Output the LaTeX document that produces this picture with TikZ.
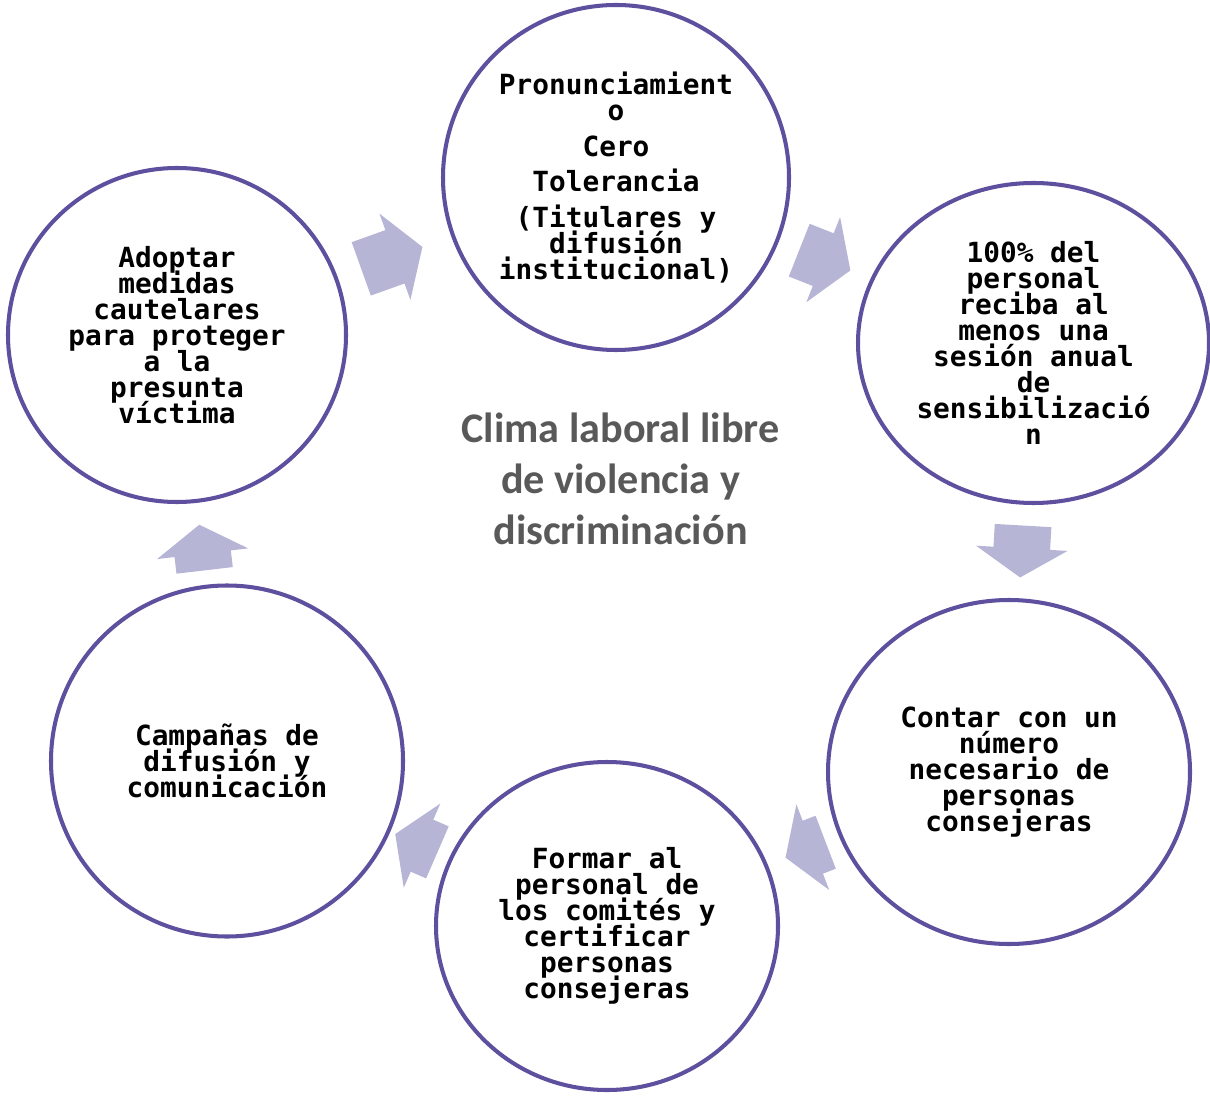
\documentclass[tikz,border=0pt]{standalone}
\usepackage{fontspec}
\usepackage{tikz}
\usetikzlibrary{shapes.geometric,shapes.arrows,backgrounds,positioning}
\newfontfamily\etapafont{DejaVu Sans Mono}
\newfontfamily\titulofont{Carlito}
\definecolor{morado}{RGB}{94,80,158}
\definecolor{lila}{RGB}{183,181,214}
\definecolor{grisoscuro}{RGB}{89,89,89}

\begin{document}
\begin{tikzpicture}[
	etapa/.style = {ellipse, draw=morado, line width=2.3pt, fill=white, inner sep=0pt, align=center,
		font={\etapafont\bfseries\fontsize{15.8}{14.8}\selectfont\lineskiplimit=-20pt}},
	flecha/.style = {single arrow, fill=lila, inner xsep=0pt, inner ysep=0.56cm,
		single arrow head extend=0.35cm, single arrow tip angle=115, sloped, allow upside down}
]
	\useasboundingbox (0,0) rectangle (24.2,21.9);

	\node 	(cero) 		[etapa, minimum width=6.92cm, minimum height=6.90cm] at (12.32,18.35)
		{Pronunciamient\\o\\[0.19cm]Cero\\[0.19cm]Tolerancia\\[0.19cm](Titulares y\\difusión\\institucional)};
	\node 	(sensib) 	[etapa, minimum width=7.02cm, minimum height=6.40cm] at (20.67,15.04)
		{100\% del\\personal\\reciba al\\menos una\\sesión anual\\de\\sensibilizació\\n};
	\node 	(consej) 	[etapa, minimum width=7.24cm, minimum height=6.88cm] at (20.18,6.46)
		{Contar con un\\número\\necesario de\\personas\\consejeras};
	\node 	(formar) 	[etapa, minimum width=6.84cm, minimum height=6.56cm] at (12.14,3.38)
		{Formar al\\personal de\\los comités y\\certificar\\personas\\consejeras};
	\node 	(campana) 	[etapa, minimum width=7.04cm, minimum height=7.02cm] at (4.54,6.68)
		{Campañas de\\difusión y\\comunicación};
	\node 	(medidas) 	[etapa, minimum width=6.76cm, minimum height=6.68cm] at (3.54,15.20)
		{Adoptar\\medidas\\cautelares\\para proteger\\a la\\presunta\\víctima};

	\node 	(clima) 	[font={\titulofont\bfseries\fontsize{24}{29.2}\selectfont}, text=grisoscuro, align=center] at (12.41,12.32)
		{Clima laboral libre\\de violencia y\\discriminación};

	\begin{scope}[on background layer]
	\path
	(medidas.center)	-- node [flecha, pos=0.47, minimum height=1.30cm] (f1) {} (cero.center)
	(cero.center)		-- node [flecha, pos=0.48, minimum height=1.10cm] (f2) {} (sensib.center)
	(sensib.center)		-- node [flecha, pos=0.465, minimum height=1.04cm] (f3) {} (consej.center)
	(consej.center)		-- node [flecha, pos=0.485, minimum height=0.86cm] (f4) {} (formar.center)
	(formar.center)		-- node [flecha, pos=0.48, minimum height=0.92cm] (f5) {} (campana.center)
	(campana.center)	-- node [flecha, pos=0.48, minimum height=0.92cm] (f6) {} (medidas.center)
	;
	\end{scope}
\end{tikzpicture}
\end{document}
